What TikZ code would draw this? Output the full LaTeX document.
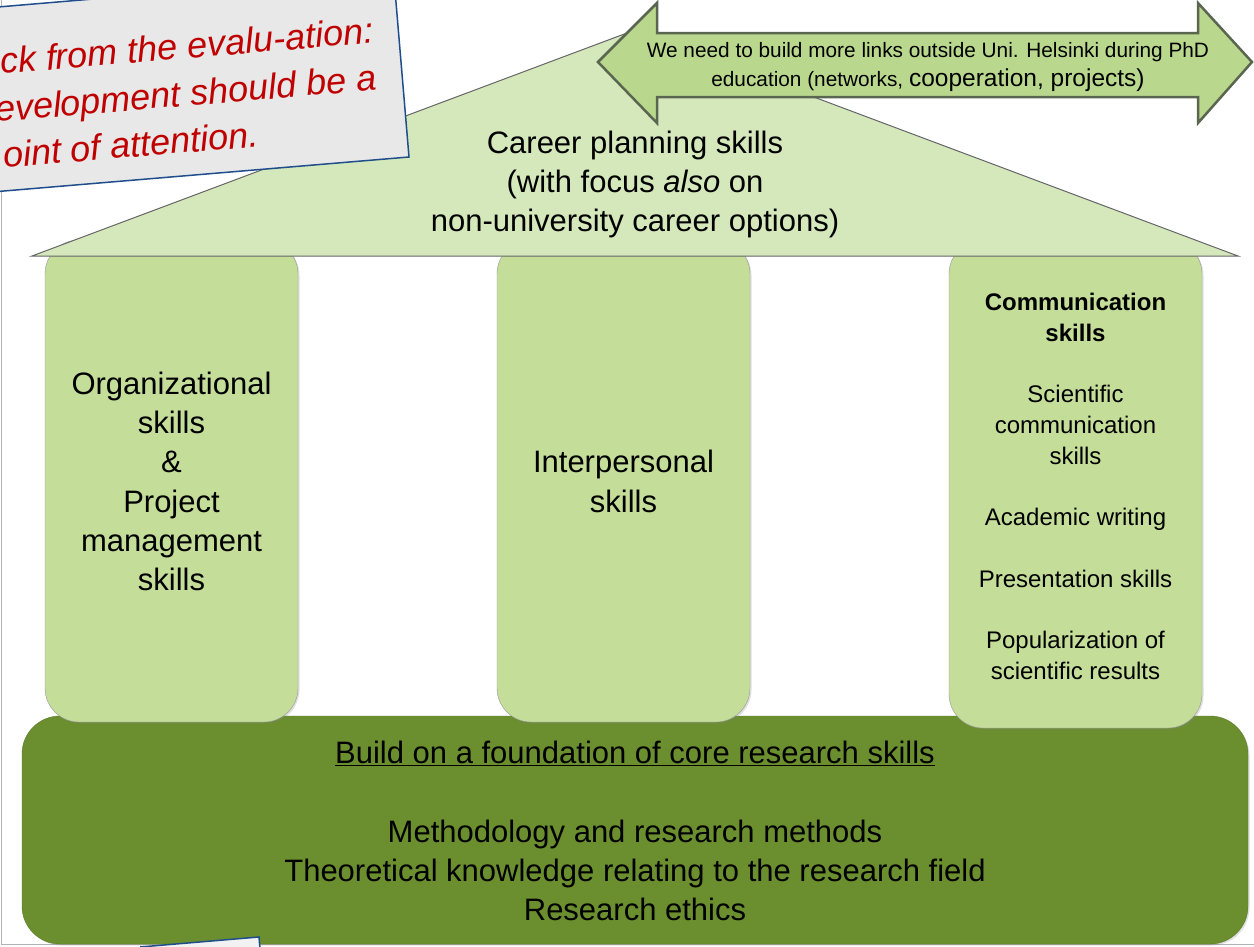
\documentclass[tikz,border=0pt]{standalone}
\usepackage{fontspec}
\setmainfont{Liberation Sans}
\usetikzlibrary{shadows}
\definecolor{roofgreen}{HTML}{D5E8BB}
\definecolor{pillargreen}{HTML}{C4DD99}
\definecolor{basegreen}{HTML}{6B8F2F}
\definecolor{arrowgreen}{HTML}{B9D88D}
\definecolor{arrowgray}{HTML}{5A6650}
\definecolor{notered}{HTML}{C00000}
\definecolor{noteblue}{HTML}{1F4E8C}
\definecolor{notegray}{HTML}{E8E8E8}
\tikzset{
  pillar/.style={draw=black!40, fill=pillargreen, rounded corners=34pt, minimum width=253pt, inner sep=0pt,
    drop shadow={shadow xshift=1.5pt, shadow yshift=-1.5pt, opacity=0.25}},
  bigtext/.style={align=center, inner sep=0pt, font=\fontsize{31}{39.2}\selectfont},
  notetext/.style={inner sep=0pt, text=notered, font=\fontsize{36}{43}\selectfont\itshape}
}
\begin{document}
\begin{tikzpicture}[x=1pt, y=-1pt]
  \clip (0,0) rectangle (1254,946);
  \fill[white] (0,0) rectangle (1254,946);
  \draw[black!30] (1,0) -- (1,944) -- (1254,944);

  \node[draw=basegreen!85!black, fill=basegreen, rounded corners=38pt, minimum width=1226pt, minimum height=228pt,
    drop shadow={shadow xshift=1.5pt, shadow yshift=-1.5pt, opacity=0.25}] (base) at (635,830) {};
  \node[bigtext] (basetext) at (635,831) {\underline{Build on a foundation of core research skills}\\[39.2pt]
    Methodology and research methods\\ Theoretical knowledge relating to the research field\\ Research ethics};

  \node[pillar, minimum height=482pt] (orgpillar) at (171.5,481) {};
  \node[pillar, minimum height=482pt] (interpillar) at (623.5,481) {};
  \node[pillar, minimum height=488pt] (commpillar) at (1075.5,484) {};
  \node[bigtext] (orgtext) at (171.5,481.5) {Organizational\\ skills\\ \&\\ Project\\ management\\ skills};
  \node[bigtext] (intertext) at (623.5,481.5) {Interpersonal\\ skills};
  \node[bigtext, font=\fontsize{24}{30.75}\selectfont] (commtext) at (1075.5,486.5) {\textbf{Communication}\\ \textbf{skills}\\[30.75pt]
    Scientific\\ communication\\ skills\\[30.75pt] Academic writing\\[30.75pt] Presentation skills\\[30.75pt]
    Popularization of\\ scientific results};

  \draw[draw=black!60, fill=roofgreen, line width=1pt] (32,256) -- (635,30) -- (1238,256) -- cycle;
  \node[bigtext, anchor=north] (rooftext) at (635,130.5) {Career planning skills\\ (with focus \textit{also} on\\ non-university career options)};

  \draw[draw=arrowgray, fill=arrowgreen, line width=2.5pt, line join=miter]
    (598,62) -- (657,3) -- (657,33) -- (1198,33) -- (1198,3) -- (1252,62) -- (1198,123) -- (1198,97) -- (657,97) -- (657,123) -- cycle;
  \node[align=center, inner sep=0pt, anchor=north, font=\fontsize{20.8}{29}\selectfont] (linktext) at (928,42)
    {We need to build more links outside Uni. Helsinki during PhD\\ education (networks, {\fontsize{24.5}{29}\selectfont cooperation, projects)}};

  \draw[draw=noteblue, fill=notegray, line width=1.5pt] (-20,8.5) -- (393.6,-26.2) -- (409,157) -- (-20,193) -- cycle;
  \node[notetext, rotate=4.8, anchor=base west] (noteA) at (1,74) {ck from the evalu-ation:};
  \node[notetext, rotate=4.8, anchor=base west] (noteB) at (-4,122) {evelopment should be a};
  \node[notetext, rotate=4.8, anchor=base west] (noteC) at (4,168) {oint of attention.};

  \draw[draw=noteblue, fill=black!5, line width=1.5pt] (140,947) -- (259,937) -- (261,960) -- (140,960);
\end{tikzpicture}
\end{document}
